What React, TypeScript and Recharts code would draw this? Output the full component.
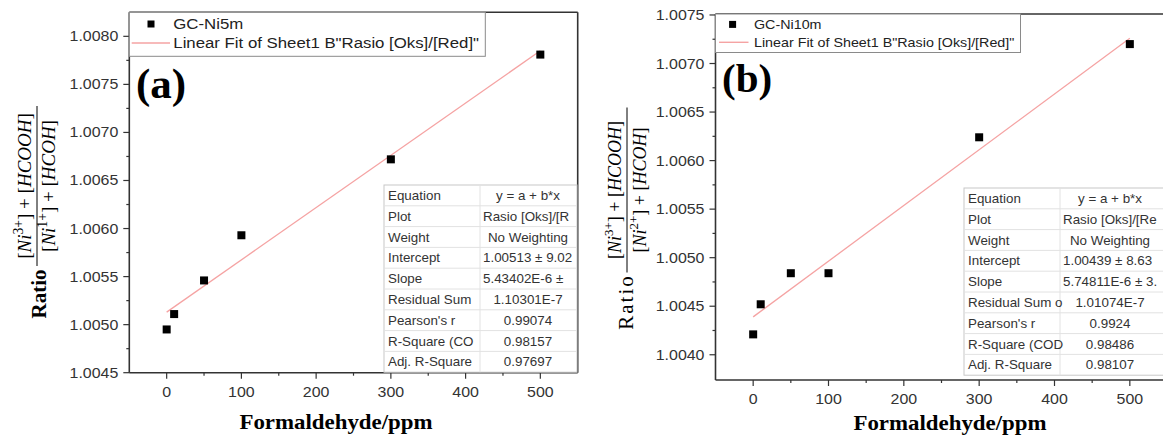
import React from 'react';
import { ComposedChart, Scatter, XAxis, YAxis } from 'recharts';

// ---------- data ----------
const concA = [0, 10, 50, 100, 300, 500];
const ratioA = [1.00495, 1.00511, 1.00546, 1.00593, 1.00672, 1.00781];
const concB = [0, 10, 50, 100, 300, 500];
const ratioB = [1.00421, 1.00452, 1.00484, 1.00484, 1.00624, 1.0072];

const fitXA = [0, 500];
const fitYA = [1.00513, 1.00785];
const fitXB = [0, 500];
const fitYB = [1.00439, 1.00726];

const xTicks = [0, 100, 200, 300, 400, 500];
const xMinor = [50, 150, 250, 350, 450];
const yTicksA = [1.0045, 1.005, 1.0055, 1.006, 1.0065, 1.007, 1.0075, 1.008];
const yMinorA = [1.00475, 1.00525, 1.00575, 1.00625, 1.00675, 1.00725, 1.00775];
const yTicksB = [1.004, 1.0045, 1.005, 1.0055, 1.006, 1.0065, 1.007, 1.0075];
const yMinorB = [1.00425, 1.00475, 1.00525, 1.00575, 1.00625, 1.00675, 1.00725];

const tableLabelsA = ['Equation', 'Plot', 'Weight', 'Intercept', 'Slope', 'Residual Sum', "Pearson's r", 'R-Square (CO', 'Adj. R-Square'];
const tableValuesA = ['y = a + b*x', 'Rasio [Oks]/[R', 'No Weighting', '1.00513 ± 9.02', '5.43402E-6 ±', '1.10301E-7', '0.99074', '0.98157', '0.97697'];
const tableLabelsB = ['Equation', 'Plot', 'Weight', 'Intercept', 'Slope', 'Residual Sum o', "Pearson's r", 'R-Square (COD', 'Adj. R-Square'];
const tableValuesB = ['y = a + b*x', 'Rasio [Oks]/[Re', 'No Weighting', '1.00439 ± 8.63', '5.74811E-6 ± 3.', '1.01074E-7', '0.9924', '0.98486', '0.98107'];
const leftAlignedRows = [1, 3, 4];

const SANS = "'Liberation Sans', Arial, sans-serif";
const SERIF = "'Liberation Serif', 'Times New Roman', serif";
const AXIS = '#333';
const FIT = '#f5a3a3';

const toPts = (xs: number[], ys: number[]) => xs.map((x, i) => ({ x, y: ys[i] }));
const isIn = (v: number, arr: number[]) => arr.some((a) => Math.abs(a - v) < 1e-9);

// horizontally stretched text (the reference figure is slightly widened)
function SText({ x, y, sx = 1, anchor = 'start', children, ...rest }: any) {
  return (
    <text transform={`translate(${x} ${y}) scale(${sx} 1)`} x={0} y={0} textAnchor={anchor} {...rest}>
      {children}
    </text>
  );
}

const Square = (p: any) => <rect x={p.cx - 4} y={p.cy - 4} width={8} height={8} fill="#000" />;
const Nothing = () => <g />;

const TICK_SX = 1.14;

const makeXTick = (majors: number[]) => (p: any) => {
  const v = p.payload.value;
  const major = isIn(v, majors);
  return (
    <g>
      <line x1={p.x} x2={p.x} y1={p.y} y2={p.y + (major ? 6 : 3)} stroke={AXIS} strokeWidth={1.2} />
      {major ? (
        <SText x={p.x} y={p.y + 24} sx={TICK_SX} anchor="middle" fontFamily={SANS} fontSize={14} fill={AXIS}>{v}</SText>
      ) : null}
    </g>
  );
};

const makeYTick = (majors: number[]) => (p: any) => {
  const v = p.payload.value;
  const major = isIn(v, majors);
  return (
    <g>
      <line x1={p.x - (major ? 6 : 3)} x2={p.x} y1={p.y} y2={p.y} stroke={AXIS} strokeWidth={1.2} />
      {major ? (
        <SText x={p.x - 11} y={p.y + 5} sx={TICK_SX} anchor="end" fontFamily={SANS} fontSize={14} fill={AXIS}>{v.toFixed(4)}</SText>
      ) : null}
    </g>
  );
};

type PanelProps = {
  left: number; width: number;
  plot: { x0: number; x1: number; y0: number; y1: number };
  yDomain: [number, number]; yTicks: number[]; yMinor: number[];
  pts: { x: number; y: number }[]; fit: { x: number; y: number }[];
};

function Panel({ left, width, plot, yDomain, yTicks, yMinor, pts, fit }: PanelProps) {
  const YW = 60;
  const XH = 30;
  const margin = {
    top: plot.y0 - 1,
    left: plot.x0 - left - YW,
    right: left + width - plot.x1 - 1,
    bottom: 440 - plot.y1 - XH,
  };
  const allX = [...xTicks, ...xMinor].sort((a, b) => a - b);
  const allY = [...yTicks, ...yMinor].sort((a, b) => a - b);
  return (
    <div style={{ position: 'absolute', left, top: 0 }}>
      <ComposedChart width={width} height={440} margin={margin}>
        <XAxis xAxisId="top" orientation="top" type="number" dataKey="x" domain={[-50, 550]} allowDataOverflow
          tick={false} tickLine={false} axisLine={{ stroke: AXIS, strokeWidth: 1.6 }} height={1} />
        <YAxis yAxisId="right" orientation="right" type="number" dataKey="y" domain={yDomain} allowDataOverflow
          tick={false} tickLine={false} axisLine={{ stroke: AXIS, strokeWidth: 1.6 }} width={1} />
        <XAxis xAxisId="main" type="number" dataKey="x" domain={[-50, 550]} allowDataOverflow ticks={allX}
          tick={makeXTick(xTicks)} tickSize={0} tickMargin={0} tickLine={false}
          axisLine={{ stroke: AXIS, strokeWidth: 1.6 }} height={XH} interval={0} />
        <YAxis yAxisId="main" type="number" dataKey="y" domain={yDomain} allowDataOverflow ticks={allY}
          tick={makeYTick(yTicks)} tickSize={0} tickMargin={0} tickLine={false}
          axisLine={{ stroke: AXIS, strokeWidth: 1.6 }} width={YW} interval={0} />
        <Scatter xAxisId="main" yAxisId="main" data={fit} line={{ stroke: FIT, strokeWidth: 1.3 }}
          shape={Nothing} isAnimationActive={false} />
        <Scatter xAxisId="main" yAxisId="main" data={pts} shape={Square} isAnimationActive={false} />
      </ComposedChart>
    </div>
  );
}

function Expr({ charge, species, fs }: { charge: string; species: string; fs: number }) {
  return (
    <>
      <tspan>[</tspan>
      <tspan fontStyle="italic">Ni</tspan>
      <tspan fontSize={fs * 0.72} dy={-fs * 0.42}>{charge}</tspan>
      <tspan dy={fs * 0.42}>] + [</tspan>
      <tspan fontStyle="italic">{species}</tspan>
      <tspan>]</tspan>
    </>
  );
}

function YTitle({ ratioX, ratioY, bold, barX, numX, denX, cy, len, fs, ratioFs, ratioSpacing, lowCharge }: any) {
  return (
    <g fontFamily={SERIF} fill="#000">
      <text x={ratioX} y={ratioY} transform={`rotate(-90 ${ratioX} ${ratioY})`} textAnchor="middle"
        fontSize={ratioFs} fontWeight={bold ? 'bold' : 'normal'} letterSpacing={ratioSpacing}>Ratio</text>
      <text x={numX} y={cy} transform={`rotate(-90 ${numX} ${cy})`} textAnchor="middle" fontSize={fs}>
        <Expr charge="3+" species="HCOOH" fs={fs} />
      </text>
      <line x1={barX} x2={barX} y1={cy - len / 2} y2={cy + len / 2} stroke="#000" strokeWidth={1} />
      <text x={denX} y={cy} transform={`rotate(-90 ${denX} ${cy})`} textAnchor="middle" fontSize={fs}>
        <Expr charge={lowCharge} species="HCOH" fs={fs} />
      </text>
    </g>
  );
}

function Legend({ x, y, w, h, name, fs, sx, mX, mY, lY, l0, l1, tX }: any) {
  return (
    <g fontFamily={SANS} fontSize={fs} fill="#222">
      <rect x={x} y={y} width={w} height={h} fill="#fff" stroke="#8a8a8a" strokeWidth={1} />
      <rect x={mX - 3.5} y={mY - 3.5} width={7} height={7} fill="#000" />
      <SText x={tX} y={mY + fs * 0.36} sx={sx}>{name}</SText>
      <line x1={l0} x2={l1} y1={lY} y2={lY} stroke={FIT} strokeWidth={1.4} />
      <SText x={tX} y={lY + fs * 0.36} sx={sx}>Linear Fit of Sheet1 B"Rasio [Oks]/[Red]"</SText>
    </g>
  );
}

function Table({ x, y, w1, w2, rowH, labels, values, fs, c2, sx }: any) {
  const n = labels.length;
  return (
    <g fontFamily={SANS} fontSize={fs} fill="#333">
      <rect x={x} y={y} width={w1 + w2} height={n * rowH} fill="#fff" stroke="#c8c8c8" strokeWidth={1} />
      {labels.map((_: string, i: number) => i > 0 ? (
        <line key={'r' + i} x1={x} x2={x + w1 + w2} y1={y + i * rowH} y2={y + i * rowH} stroke="#e2e2e2" strokeWidth={1} />
      ) : null)}
      <line x1={x + w1} x2={x + w1} y1={y} y2={y + n * rowH} stroke="#e2e2e2" strokeWidth={1} />
      {labels.map((l: string, i: number) => (
        <SText key={'l' + i} x={x + 4} y={y + i * rowH + rowH / 2 + fs * 0.36} sx={sx}>{l}</SText>
      ))}
      {values.map((v: string, i: number) => leftAlignedRows.includes(i) ? (
        <SText key={'v' + i} x={x + w1 + 3} y={y + i * rowH + rowH / 2 + fs * 0.36} sx={sx}>{v}</SText>
      ) : (
        <SText key={'v' + i} x={c2} y={y + i * rowH + rowH / 2 + fs * 0.36} sx={sx} anchor="middle">{v}</SText>
      ))}
    </g>
  );
}

export default function App() {
  return (
    <div style={{ position: 'absolute', left: 0, top: 0, width: 1163, height: 440, overflow: 'hidden', background: '#fff' }}>
      <Panel left={0} width={600}
        plot={{ x0: 129.3, x1: 577.7, y0: 12.3, y1: 372.7 }}
        yDomain={[1.0045, 1.00825]} yTicks={yTicksA} yMinor={yMinorA}
        pts={toPts(concA, ratioA)} fit={toPts(fitXA, fitYA)} />
      <Panel left={580} width={660}
        plot={{ x0: 715.5, x1: 1167.5, y0: 14, y1: 380 }}
        yDomain={[1.00374, 1.00751]} yTicks={yTicksB} yMinor={yMinorB}
        pts={toPts(concB, ratioB)} fit={toPts(fitXB, fitYB)} />
      <svg width={1163} height={440} style={{ position: 'absolute', left: 0, top: 0, pointerEvents: 'none' }}>
        <Legend x={129.3} y={12.3} w={356} h={44} name="GC-Ni5m" fs={15} sx={1.12}
          mX={151} mY={24} lY={43} l0={131.7} l1={170} tX={173.3} />
        <Legend x={715.5} y={14} w={305} h={38.5} name="GC-Ni10m" fs={13} sx={1.1}
          mX={732.6} mY={24.4} lY={42.3} l0={719} l1={748.5} tX={754} />
        <text x={136} y={98} fontFamily={SERIF} fontWeight="bold" fontSize={43} fill="#000">(a)</text>
        <text x={722} y={92} fontFamily={SERIF} fontWeight="bold" fontSize={41} fill="#000">(b)</text>
        <Table x={384} y={185} w1={96} w2={97} rowH={20.8} labels={tableLabelsA} values={tableValuesA} fs={13} sx={1.03} c2={528} />
        <Table x={964} y={188} w1={96} w2={110} rowH={20.8} labels={tableLabelsB} values={tableValuesB} fs={13} sx={1.03} c2={1110} />
        <SText x={336} y={429} sx={1.04} anchor="middle" fontFamily={SERIF} fontWeight="bold" fontSize={22} fill="#000">Formaldehyde/ppm</SText>
        <SText x={950} y={430} sx={1.04} anchor="middle" fontFamily={SERIF} fontWeight="bold" fontSize={22} fill="#000">Formaldehyde/ppm</SText>
        <YTitle ratioX={46} ratioY={294} bold barX={37} numX={31} denX={55} cy={186} len={160} fs={19} ratioFs={21} ratioSpacing={0} lowCharge="1+" />
        <YTitle ratioX={633} ratioY={302} bold={false} barX={627} numX={621} denX={646} cy={190} len={165} fs={18} ratioFs={21} ratioSpacing={2} lowCharge="2+" />
      </svg>
    </div>
  );
}
